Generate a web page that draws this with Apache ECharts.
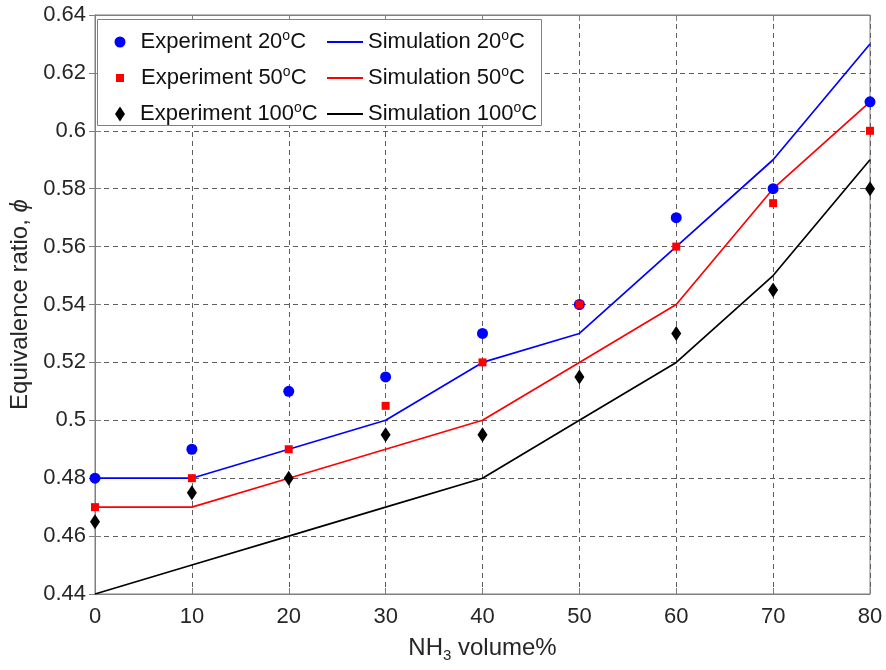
<!DOCTYPE html>
<html>
<head>
<meta charset="utf-8">
<script src="https://cdn.jsdelivr.net/npm/echarts@6/dist/echarts.min.js"></script>
<style>
  html, body { margin: 0; padding: 0; background: #fff; }
  #chart { width: 886px; height: 670px; }
</style>
</head>
<body>
<div id="chart"></div>
<script>
var nh3 = [0, 10, 20, 30, 40, 50, 60, 70, 80];
var exp20 = [0.48, 0.49, 0.51, 0.515, 0.53, 0.54, 0.57, 0.58, 0.61];
var exp50 = [0.47, 0.48, 0.49, 0.505, 0.52, 0.54, 0.56, 0.575, 0.60];
var exp100 = [0.465, 0.475, 0.48, 0.495, 0.495, 0.515, 0.53, 0.545, 0.58];
var sim20 = [0.48, 0.48, 0.49, 0.50, 0.52, 0.53, 0.56, 0.59, 0.63];
var sim50 = [0.47, 0.47, 0.48, 0.49, 0.50, 0.52, 0.54, 0.58, 0.61];
var sim100 = [0.44, 0.45, 0.46, 0.47, 0.48, 0.50, 0.52, 0.55, 0.59];

function pairs(ys) {
  return nh3.map(function (x, i) { return [x, ys[i]]; });
}

var chartDom = document.getElementById('chart');
var myChart = echarts.init(chartDom);
var option;

var fontFam = 'Liberation Sans, Arial, sans-serif';
var boxColor = '#7f7f7f';
var gridLine = { show: true, lineStyle: { color: '#5e5e5e', type: [5, 4], width: 1 } };

function legendText(padLeft) {
  return {
    padding: [0, 0, 0, padLeft],
    lineHeight: 26,
    rich: {
      base: { fontSize: 22, fontFamily: fontFam, color: '#111', lineHeight: 26 },
      sup: { fontSize: 14, fontFamily: fontFam, color: '#111', verticalAlign: 'top', lineHeight: 26, padding: [0, 0, 13, 0] }
    }
  };
}
function legendFmt(name) {
  return '{base|' + name.replace('°C', '}{sup|o}{base|C}');
}
// one legend per experiment row so each marker keeps its own size
function expLegend(name, icon, w, h, left, top, pad) {
  return {
    orient: 'vertical', left: left, top: top, padding: 0,
    itemWidth: w, itemHeight: h,
    data: [{ name: name, icon: icon }],
    formatter: legendFmt,
    textStyle: legendText(pad),
    z: 100
  };
}

option = {
  backgroundColor: '#fff',
  animation: false,
  textStyle: { fontFamily: fontFam },
  grid: { left: 95, right: 16, top: 15, bottom: 76, show: true, borderColor: boxColor, borderWidth: 1 },
  graphic: [{
    type: 'rect',
    shape: { x: 97.5, y: 19.5, width: 444, height: 106 },
    style: { fill: '#fff', stroke: '#808080', lineWidth: 1 },
    z: 90
  }],
  legend: [
    expLegend('Experiment 20°C', 'circle', 11, 11, 114.5, 29, 10),
    expLegend('Experiment 50°C', 'rect', 8, 8, 116, 65, 12),
    expLegend('Experiment 100°C', 'diamond', 10, 15, 115, 101, 10),
    {
      orient: 'vertical', left: 327, top: 29, padding: 0,
      itemGap: 9,
      itemWidth: 36, itemHeight: 2,
      data: [
        { name: 'Simulation 20°C', icon: 'rect' },
        { name: 'Simulation 50°C', icon: 'rect' },
        { name: 'Simulation 100°C', icon: 'rect' }
      ],
      formatter: legendFmt,
      textStyle: legendText(0),
      z: 100
    }
  ],
  xAxis: [{
    type: 'value', min: 0, max: 80, interval: 10,
    name: 'NH{sub|3} volume%',
    nameLocation: 'middle', nameGap: 40,
    nameTextStyle: {
      fontSize: 24, color: '#262626', fontFamily: fontFam,
      rich: { sub: { fontSize: 15, verticalAlign: 'bottom', padding: [14, 0, 0, 0], color: '#262626' } }
    },
    axisLine: { lineStyle: { color: boxColor } },
    axisTick: { inside: true, length: 6, lineStyle: { color: boxColor } },
    axisLabel: { fontSize: 22, color: '#262626', margin: 12 },
    splitLine: gridLine
  }, {
    type: 'value', min: 0, max: 80, interval: 10, position: 'top',
    axisLine: { lineStyle: { color: boxColor } },
    axisTick: { inside: true, length: 6, lineStyle: { color: boxColor } },
    axisLabel: { show: false },
    splitLine: { show: false }
  }],
  yAxis: [{
    type: 'value', min: 0.44, max: 0.64, interval: 0.02,
    name: 'Equivalence ratio, {it|ϕ}',
    nameLocation: 'middle', nameGap: 58,
    nameTextStyle: {
      fontSize: 24, color: '#262626', fontFamily: fontFam,
      rich: { it: { fontSize: 24, fontStyle: 'italic', color: '#262626' } }
    },
    axisLine: { show: true, lineStyle: { color: boxColor } },
    axisTick: { show: true, inside: true, length: 6, lineStyle: { color: boxColor } },
    axisLabel: { fontSize: 22, color: '#262626', margin: 9, formatter: function (v) { return +v.toFixed(2) + ''; } },
    splitLine: gridLine
  }, {
    type: 'value', min: 0.44, max: 0.64, interval: 0.02, position: 'right',
    axisLine: { show: true, lineStyle: { color: boxColor } },
    axisTick: { show: true, inside: true, length: 6, lineStyle: { color: boxColor } },
    axisLabel: { show: false },
    splitLine: { show: false }
  }],
  series: [
    {
      name: 'Simulation 20°C', type: 'line', data: pairs(sim20),
      symbol: 'none', lineStyle: { color: '#0000ff', width: 1.7 }, itemStyle: { color: '#0000ff' }, z: 2
    },
    {
      name: 'Simulation 50°C', type: 'line', data: pairs(sim50),
      symbol: 'none', lineStyle: { color: '#ff0000', width: 1.7 }, itemStyle: { color: '#ff0000' }, z: 2
    },
    {
      name: 'Simulation 100°C', type: 'line', data: pairs(sim100),
      symbol: 'none', lineStyle: { color: '#000000', width: 1.7 }, itemStyle: { color: '#000000' }, z: 2
    },
    {
      name: 'Experiment 20°C', type: 'scatter', data: pairs(exp20),
      symbol: 'circle', symbolSize: 11, itemStyle: { color: '#0000ff', opacity: 1 }, z: 3
    },
    {
      name: 'Experiment 50°C', type: 'scatter', data: pairs(exp50),
      symbol: 'rect', symbolSize: 8, itemStyle: { color: '#ff0000', opacity: 1 }, z: 4
    },
    {
      name: 'Experiment 100°C', type: 'scatter', data: pairs(exp100),
      symbol: 'diamond', symbolSize: [10, 15], itemStyle: { color: '#000000', opacity: 1 }, z: 5
    }
  ]
};

option && myChart.setOption(option);
</script>
</body>
</html>
